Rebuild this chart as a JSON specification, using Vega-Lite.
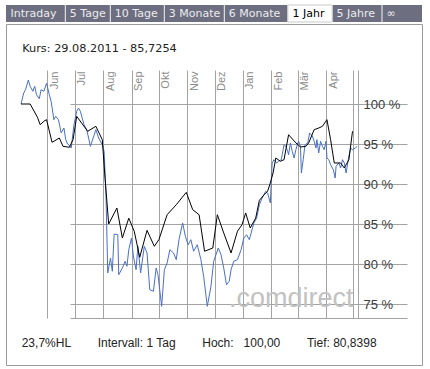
{
  "$schema": "https://vega.github.io/schema/vega-lite/v6.json",
  "padding": {"left": 5, "top": 4, "right": 9, "bottom": 7},
  "background": "white",
  "spacing": 0,
  "config": {"view": {"stroke": null}},
  "datasets": {
    "tabs": [
      {"tab": "Intraday", "i": 0, "j": 1, "sel": false},
      {"tab": "5 Tage", "i": 1, "j": 2, "sel": false},
      {"tab": "10 Tage", "i": 2, "j": 3, "sel": false},
      {"tab": "3 Monate", "i": 3, "j": 4, "sel": false},
      {"tab": "6 Monate", "i": 4, "j": 5, "sel": false},
      {"tab": "1 Jahr", "i": 5, "j": 6, "sel": true},
      {"tab": "5 Jahre", "i": 6, "j": 7, "sel": false},
      {"tab": "∞", "i": 7, "j": 8, "sel": false}
    ],
    "marker": [{"date": "2011-09-01"}],
    "kurs": [
      {"date": "2011-05-03", "value": 100.0},
      {"date": "2011-05-13", "value": 100.0},
      {"date": "2011-05-21", "value": 98.34},
      {"date": "2011-05-24", "value": 97.41},
      {"date": "2011-05-28", "value": 97.84},
      {"date": "2011-05-31", "value": 98.04},
      {"date": "2011-06-06", "value": 95.21},
      {"date": "2011-06-14", "value": 95.75},
      {"date": "2011-06-18", "value": 94.71},
      {"date": "2011-06-25", "value": 94.59},
      {"date": "2011-06-29", "value": 95.54},
      {"date": "2011-07-03", "value": 98.46},
      {"date": "2011-07-15", "value": 96.59},
      {"date": "2011-07-24", "value": 97.21},
      {"date": "2011-07-31", "value": 95.54},
      {"date": "2011-08-03", "value": 90.75},
      {"date": "2011-08-07", "value": 85.0},
      {"date": "2011-08-16", "value": 87.0},
      {"date": "2011-08-22", "value": 83.25},
      {"date": "2011-08-29", "value": 85.73},
      {"date": "2011-09-04", "value": 84.09},
      {"date": "2011-09-10", "value": 80.84},
      {"date": "2011-09-18", "value": 84.21},
      {"date": "2011-09-26", "value": 82.21},
      {"date": "2011-10-01", "value": 83.04},
      {"date": "2011-10-10", "value": 86.16},
      {"date": "2011-10-20", "value": 87.41},
      {"date": "2011-10-31", "value": 88.96},
      {"date": "2011-11-07", "value": 86.79},
      {"date": "2011-11-14", "value": 86.16},
      {"date": "2011-11-20", "value": 81.59},
      {"date": "2011-11-29", "value": 82.0},
      {"date": "2011-12-04", "value": 86.16},
      {"date": "2011-12-11", "value": 83.88},
      {"date": "2011-12-19", "value": 81.38},
      {"date": "2011-12-26", "value": 84.09},
      {"date": "2011-12-31", "value": 84.91},
      {"date": "2012-01-04", "value": 86.38},
      {"date": "2012-01-09", "value": 84.5},
      {"date": "2012-01-15", "value": 85.75},
      {"date": "2012-01-19", "value": 87.96},
      {"date": "2012-01-24", "value": 88.63},
      {"date": "2012-01-28", "value": 89.09},
      {"date": "2012-01-31", "value": 90.13},
      {"date": "2012-02-03", "value": 91.38},
      {"date": "2012-02-06", "value": 93.25},
      {"date": "2012-02-11", "value": 92.84},
      {"date": "2012-02-15", "value": 93.04},
      {"date": "2012-02-20", "value": 96.16},
      {"date": "2012-02-28", "value": 95.13},
      {"date": "2012-03-04", "value": 94.63},
      {"date": "2012-03-10", "value": 94.71},
      {"date": "2012-03-13", "value": 95.13},
      {"date": "2012-03-19", "value": 96.79},
      {"date": "2012-03-24", "value": 97.0},
      {"date": "2012-03-28", "value": 97.21},
      {"date": "2012-04-02", "value": 98.04},
      {"date": "2012-04-06", "value": 95.54},
      {"date": "2012-04-10", "value": 92.63},
      {"date": "2012-04-17", "value": 92.63},
      {"date": "2012-04-21", "value": 92.0},
      {"date": "2012-04-26", "value": 93.04},
      {"date": "2012-04-30", "value": 96.59}
    ],
    "index": [
      {"date": "2011-05-03", "value": 100.0},
      {"date": "2011-05-06", "value": 101.38},
      {"date": "2011-05-08", "value": 101.79},
      {"date": "2011-05-11", "value": 103.0},
      {"date": "2011-05-13", "value": 102.21},
      {"date": "2011-05-16", "value": 101.59},
      {"date": "2011-05-18", "value": 102.21},
      {"date": "2011-05-20", "value": 101.16},
      {"date": "2011-05-23", "value": 100.66},
      {"date": "2011-05-25", "value": 101.79},
      {"date": "2011-05-28", "value": 101.59},
      {"date": "2011-05-31", "value": 102.59},
      {"date": "2011-06-03", "value": 101.16},
      {"date": "2011-06-05", "value": 100.34},
      {"date": "2011-06-08", "value": 98.04},
      {"date": "2011-06-10", "value": 98.46},
      {"date": "2011-06-13", "value": 98.04},
      {"date": "2011-06-16", "value": 96.38},
      {"date": "2011-06-19", "value": 97.0},
      {"date": "2011-06-21", "value": 95.54},
      {"date": "2011-06-23", "value": 95.0},
      {"date": "2011-06-25", "value": 94.84},
      {"date": "2011-06-27", "value": 94.5},
      {"date": "2011-06-30", "value": 97.41},
      {"date": "2011-07-03", "value": 99.09},
      {"date": "2011-07-05", "value": 99.5},
      {"date": "2011-07-07", "value": 99.09},
      {"date": "2011-07-11", "value": 97.41},
      {"date": "2011-07-14", "value": 96.79},
      {"date": "2011-07-16", "value": 95.75},
      {"date": "2011-07-18", "value": 94.71},
      {"date": "2011-07-21", "value": 95.75},
      {"date": "2011-07-24", "value": 96.79},
      {"date": "2011-07-27", "value": 95.75},
      {"date": "2011-07-31", "value": 94.91},
      {"date": "2011-08-02", "value": 94.09},
      {"date": "2011-08-04", "value": 88.88},
      {"date": "2011-08-06", "value": 78.88},
      {"date": "2011-08-09", "value": 80.75},
      {"date": "2011-08-11", "value": 79.09},
      {"date": "2011-08-13", "value": 83.75},
      {"date": "2011-08-17", "value": 83.66},
      {"date": "2011-08-18", "value": 78.66},
      {"date": "2011-08-22", "value": 79.5},
      {"date": "2011-08-25", "value": 80.34},
      {"date": "2011-08-27", "value": 79.71},
      {"date": "2011-08-29", "value": 81.79},
      {"date": "2011-09-01", "value": 83.25},
      {"date": "2011-09-03", "value": 81.0},
      {"date": "2011-09-06", "value": 79.29},
      {"date": "2011-09-08", "value": 82.21},
      {"date": "2011-09-11", "value": 78.88},
      {"date": "2011-09-15", "value": 82.21},
      {"date": "2011-09-18", "value": 81.38},
      {"date": "2011-09-21", "value": 76.79},
      {"date": "2011-09-25", "value": 76.59},
      {"date": "2011-09-28", "value": 79.5},
      {"date": "2011-09-30", "value": 78.66},
      {"date": "2011-10-04", "value": 74.71},
      {"date": "2011-10-07", "value": 79.29},
      {"date": "2011-10-10", "value": 80.13},
      {"date": "2011-10-13", "value": 81.79},
      {"date": "2011-10-17", "value": 81.38},
      {"date": "2011-10-20", "value": 80.54},
      {"date": "2011-10-23", "value": 83.04},
      {"date": "2011-10-27", "value": 85.13},
      {"date": "2011-10-30", "value": 83.46},
      {"date": "2011-11-02", "value": 82.41},
      {"date": "2011-11-05", "value": 83.04},
      {"date": "2011-11-08", "value": 81.59},
      {"date": "2011-11-12", "value": 82.41},
      {"date": "2011-11-16", "value": 80.54},
      {"date": "2011-11-19", "value": 78.46},
      {"date": "2011-11-23", "value": 74.71},
      {"date": "2011-11-27", "value": 77.21},
      {"date": "2011-11-30", "value": 80.34},
      {"date": "2011-12-05", "value": 82.0},
      {"date": "2011-12-08", "value": 81.16},
      {"date": "2011-12-11", "value": 79.5},
      {"date": "2011-12-14", "value": 77.41},
      {"date": "2011-12-17", "value": 77.84},
      {"date": "2011-12-19", "value": 79.29},
      {"date": "2011-12-22", "value": 80.34},
      {"date": "2011-12-26", "value": 80.54},
      {"date": "2011-12-30", "value": 81.79},
      {"date": "2012-01-02", "value": 83.25},
      {"date": "2012-01-05", "value": 83.66},
      {"date": "2012-01-08", "value": 83.04},
      {"date": "2012-01-10", "value": 83.88},
      {"date": "2012-01-13", "value": 85.13},
      {"date": "2012-01-16", "value": 85.75},
      {"date": "2012-01-19", "value": 87.41},
      {"date": "2012-01-22", "value": 88.25},
      {"date": "2012-01-26", "value": 89.09},
      {"date": "2012-01-28", "value": 88.88},
      {"date": "2012-01-31", "value": 87.63},
      {"date": "2012-02-01", "value": 90.1},
      {"date": "2012-02-02", "value": 92.63},
      {"date": "2012-02-04", "value": 93.04},
      {"date": "2012-02-07", "value": 92.63},
      {"date": "2012-02-09", "value": 92.84},
      {"date": "2012-02-12", "value": 93.04},
      {"date": "2012-02-13", "value": 93.66},
      {"date": "2012-02-15", "value": 94.91},
      {"date": "2012-02-17", "value": 94.71},
      {"date": "2012-02-19", "value": 94.09},
      {"date": "2012-02-20", "value": 93.66},
      {"date": "2012-02-22", "value": 95.13},
      {"date": "2012-02-24", "value": 94.09},
      {"date": "2012-02-26", "value": 93.25},
      {"date": "2012-02-28", "value": 94.29},
      {"date": "2012-03-01", "value": 95.13},
      {"date": "2012-03-02", "value": 95.34},
      {"date": "2012-03-04", "value": 94.71},
      {"date": "2012-03-05", "value": 91.38},
      {"date": "2012-03-07", "value": 93.04},
      {"date": "2012-03-09", "value": 94.91},
      {"date": "2012-03-12", "value": 95.13},
      {"date": "2012-03-14", "value": 96.38},
      {"date": "2012-03-17", "value": 96.0},
      {"date": "2012-03-19", "value": 95.34},
      {"date": "2012-03-21", "value": 94.5},
      {"date": "2012-03-22", "value": 95.54},
      {"date": "2012-03-24", "value": 93.88},
      {"date": "2012-03-26", "value": 95.34},
      {"date": "2012-03-28", "value": 94.71},
      {"date": "2012-03-30", "value": 94.29},
      {"date": "2012-04-01", "value": 95.34},
      {"date": "2012-04-02", "value": 93.25},
      {"date": "2012-04-04", "value": 93.04},
      {"date": "2012-04-06", "value": 92.41},
      {"date": "2012-04-09", "value": 91.79},
      {"date": "2012-04-11", "value": 90.75},
      {"date": "2012-04-12", "value": 92.21},
      {"date": "2012-04-15", "value": 92.63},
      {"date": "2012-04-17", "value": 92.0},
      {"date": "2012-04-19", "value": 93.04},
      {"date": "2012-04-21", "value": 92.63},
      {"date": "2012-04-23", "value": 91.38},
      {"date": "2012-04-26", "value": 93.46},
      {"date": "2012-04-28", "value": 94.5},
      {"date": "2012-04-30", "value": 94.29},
      {"date": "2012-05-03", "value": 94.5},
      {"date": "2012-05-05", "value": 94.71}
    ]
  },
  "vconcat": [
    {
      "width": 416,
      "height": 17,
      "view": {"fill": "#6d6e7f", "stroke": null},
      "data": {"name": "tabs"},
      "encoding": {
        "x": {
          "field": "i",
          "type": "quantitative",
          "scale": {"domain": [0, 1, 2, 3, 4, 5, 6, 7, 8], "range": [0, 59.3, 104.3, 158.3, 218.3, 282, 326, 376, 396], "nice": false, "zero": false},
          "axis": null
        }
      },
      "layer": [
        {
          "transform": [{"filter": "datum.sel"}],
          "mark": {"type": "rect", "fill": "white", "stroke": "#c8c8c8", "strokeWidth": 1},
          "encoding": {"x2": {"field": "j"}}
        },
        {
          "transform": [{"filter": "datum.i > 0"}],
          "mark": {"type": "rule", "color": "#f4f4f4", "strokeWidth": 1},
          "encoding": {}
        },
        {
          "mark": {"type": "text", "align": "left", "baseline": "middle", "dx": 4.5, "font": "DejaVu Sans", "fontSize": 11},
          "encoding": {
            "text": {"field": "tab"},
            "color": {"condition": {"test": "datum.sel", "value": "#000000"}, "value": "#ececf0"},
            "fontWeight": {"condition": {"test": "datum.sel", "value": "bold"}, "value": "normal"}
          }
        }
      ]
    },
    {
      "width": 416,
      "height": 341,
      "view": {"fill": "white", "stroke": "#9a9a9a"},
      "title": {
        "text": "23,7%HL\u00a0\u00a0\u00a0\u00a0\u00a0\u00a0\u00a0\u00a0Intervall: 1 Tag\u00a0\u00a0\u00a0\u00a0\u00a0\u00a0\u00a0\u00a0Hoch:\u00a0\u00a0\u00a0100,00\u00a0\u00a0\u00a0\u00a0\u00a0\u00a0\u00a0\u00a0Tief: 80,8398",
        "orient": "bottom",
        "anchor": "start",
        "frame": "group",
        "offset": -18,
        "dx": 15.7,
        "baseline": "alphabetic",
        "font": "Liberation Sans",
        "fontSize": 12,
        "fontWeight": "normal",
        "color": "#222222"
      },
      "encoding": {
        "x": {
          "field": "date",
          "type": "temporal",
          "scale": {"domain": [{"year": 2011, "month": 5, "date": 3}, {"year": 2012, "month": 5, "date": 6}], "range": [15, 352], "nice": false},
          "axis": {
            "orient": "top",
            "offset": -46,
            "tickCount": {"interval": "month", "step": 1},
            "grid": true,
            "gridColor": "#a3a3a3",
            "gridWidth": 1,
            "domain": false,
            "ticks": false,
            "tickSize": 0,
            "labelAngle": 270,
            "labelAlign": "right",
            "labelBaseline": "middle",
            "labelPadding": -1,
            "labelOffset": 7,
            "labelFont": "Liberation Sans",
            "labelFontSize": 11,
            "labelColor": "#8a8a8a",
            "labelOverlap": false,
            "labelFlush": false,
            "labelBound": false,
            "labelExpr": "month(datum.value) == 4 ? '' : ['Jan','Feb','Mär','Apr','Mai','Jun','Jul','Aug','Sep','Okt','Nov','Dez'][month(datum.value)]",
            "title": "Kurs: 29.08.2011 - 85,7254",
            "titleX": 15.7,
            "titleY": -18.7,
            "titleAlign": "left",
            "titleAnchor": "start",
            "titleAngle": 0,
            "titleBaseline": "alphabetic",
            "titleFont": "DejaVu Sans",
            "titleFontSize": 11.3,
            "titleFontWeight": "normal",
            "titleColor": "#222222"
          }
        },
        "y": {
          "field": "value",
          "type": "quantitative",
          "scale": {"domain": [73.25, 104.25], "range": [294, 46], "nice": false, "zero": false},
          "axis": {
            "orient": "right",
            "offset": -64,
            "values": [73.25, 75, 80, 85, 90, 95, 100],
            "labelExpr": "datum.value < 74 ? '' : datum.value + ' %'",
            "grid": true,
            "gridColor": "#a3a3a3",
            "gridWidth": 1,
            "domain": true,
            "domainColor": "#a3a3a3",
            "ticks": false,
            "tickSize": 0,
            "labelPadding": 5,
            "labelFont": "Liberation Sans",
            "labelFontSize": 13,
            "labelColor": "#3c3c3c",
            "labelBaseline": "middle",
            "labelFlush": false,
            "labelOverlap": false,
            "title": ".comdirect",
            "titleX": -5,
            "titleY": 282,
            "titleAngle": 0,
            "titleAlign": "right",
            "titleBaseline": "alphabetic",
            "titleFont": "Liberation Sans",
            "titleFontSize": 27,
            "titleFontWeight": "normal",
            "titleColor": "#c2c2c2"
          }
        }
      },
      "layer": [
        {
          "data": {"name": "index"},
          "mark": {"type": "line", "color": "#4a6fc7", "strokeWidth": 1}
        },
        {
          "data": {"name": "kurs"},
          "mark": {"type": "line", "color": "#000000", "strokeWidth": 1}
        },
        {
          "data": {"name": "marker"},
          "mark": {"type": "rule", "color": "#f4b31f", "strokeWidth": 2},
          "encoding": {"y": {"datum": 73.25}, "y2": {"datum": 104.25}}
        }
      ]
    }
  ]
}
